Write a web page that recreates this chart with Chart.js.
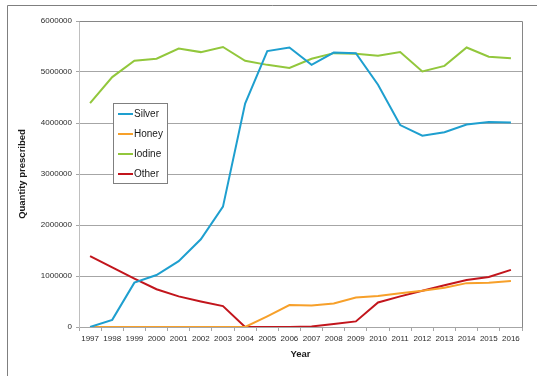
<!DOCTYPE html>
<html>
<head>
<meta charset="utf-8">
<script src="https://cdn.jsdelivr.net/npm/chart.js@4/dist/chart.umd.min.js"></script>
<style>
  html, body { margin: 0; padding: 0; background: #ffffff; }
  #wrap { width: 537px; height: 376px; position: relative; }
</style>
</head>
<body>
<div id="wrap"><canvas id="chart" width="537" height="376"></canvas></div>
<script>
// Prescriptions per year, by dressing type
const years = ['1997','1998','1999','2000','2001','2002','2003','2004','2005','2006',
               '2007','2008','2009','2010','2011','2012','2013','2014','2015','2016'];
const silver = [0, 140000, 870000, 1020000, 1290000, 1720000, 2360000, 4380000, 5410000, 5480000,
                5140000, 5380000, 5370000, 4750000, 3960000, 3750000, 3820000, 3970000, 4020000, 4010000];
const honey  = [0, 0, 0, 0, 0, 0, 0, 0, 210000, 430000,
                420000, 460000, 580000, 610000, 660000, 710000, 770000, 860000, 870000, 900000];
const iodine = [4390000, 4900000, 5220000, 5260000, 5460000, 5390000, 5490000, 5220000, 5140000, 5080000,
                5260000, 5370000, 5360000, 5320000, 5390000, 5010000, 5120000, 5480000, 5300000, 5270000];
const other  = [1390000, 1170000, 950000, 740000, 600000, 500000, 410000, 0, 0, 0,
                10000, 60000, 110000, 480000, 600000, 710000, 820000, 920000, 980000, 1120000];
const yTicks = [0, 1000000, 2000000, 3000000, 4000000, 5000000, 6000000];

const FONT = "'Liberation Sans', Arial, sans-serif";

// Outer frame, plot border and the boxed legend
const framePlugin = {
  id: 'frame',
  beforeDraw(chart) {
    const ctx = chart.ctx;
    ctx.save();
    ctx.fillStyle = '#ffffff';
    ctx.fillRect(0, 0, chart.width, chart.height);
    ctx.strokeStyle = '#7f7f7f';
    ctx.lineWidth = 1;
    ctx.beginPath();
    ctx.moveTo(7.5, chart.height);
    ctx.lineTo(7.5, 5.5);
    ctx.lineTo(chart.width, 5.5);
    ctx.stroke();
    ctx.restore();
  },
  afterDatasetsDraw(chart) {
    const ctx = chart.ctx;
    const a = chart.chartArea;
    ctx.save();
    ctx.strokeStyle = '#868686';
    ctx.lineWidth = 1;
    ctx.beginPath();
    ctx.moveTo(Math.round(a.left) + 0.5, Math.round(a.top) + 0.5);
    ctx.lineTo(Math.round(a.right) + 0.5, Math.round(a.top) + 0.5);
    ctx.lineTo(Math.round(a.right) + 0.5, Math.round(a.bottom) + 0.5);
    ctx.stroke();

    // legend box
    const bx = 113.5, by = 103.5, bw = 54, bh = 80;
    ctx.fillStyle = '#ffffff';
    ctx.fillRect(bx, by, bw, bh);
    ctx.strokeStyle = '#7f7f7f';
    ctx.strokeRect(bx, by, bw, bh);
    ctx.font = '10px ' + FONT;
    ctx.textBaseline = 'middle';
    ctx.textAlign = 'left';
    chart.data.datasets.forEach((ds, i) => {
      const y = 114 + i * 20;
      ctx.strokeStyle = ds.borderColor;
      ctx.lineWidth = 2;
      ctx.beginPath();
      ctx.moveTo(118, y);
      ctx.lineTo(133, y);
      ctx.stroke();
      ctx.fillStyle = '#1a1a1a';
      ctx.fillText(ds.label, 134, y + 0.5);
    });
    ctx.restore();
  }
};

new Chart(document.getElementById('chart'), {
  type: 'line',
  data: {
    labels: years,
    datasets: [
      { label: 'Silver', data: silver, borderColor: '#1e9fcf', backgroundColor: '#1e9fcf' },
      { label: 'Honey',  data: honey,  borderColor: '#f7a02a', backgroundColor: '#f7a02a' },
      { label: 'Iodine', data: iodine, borderColor: '#92c73c', backgroundColor: '#92c73c' },
      { label: 'Other',  data: other,  borderColor: '#c2151c', backgroundColor: '#c2151c' }
    ].map(d => Object.assign(d, { borderWidth: 2, pointRadius: 0, tension: 0, fill: false }))
  },
  options: {
    responsive: false,
    animation: false,
    layout: { padding: { left: 0, right: 15, top: 21, bottom: 0 } },
    plugins: {
      legend: { display: false },
      tooltip: { enabled: false }
    },
    scales: {
      x: {
        offset: true,
        grid: { offset: true, drawOnChartArea: false, drawTicks: true, tickLength: 4, color: '#a6a6a6' },
        border: { color: '#a6a6a6' },
        ticks: { color: '#2b2b2b', font: { family: FONT, size: 8 }, padding: 3, maxRotation: 0, autoSkip: false },
        title: { display: true, text: 'Year', color: '#1a1a1a', font: { family: FONT, size: 9.5, weight: 'bold' }, padding: { top: 0, bottom: 16 } },
        afterFit(scale) { scale.height = 49; }
      },
      y: {
        min: 0,
        max: 6000000,
        afterBuildTicks(scale) { scale.ticks = yTicks.map(v => ({ value: v })); },
        grid: { color: '#a6a6a6', tickLength: 3, drawTicks: true },
        border: { color: '#bfbfbf' },
        ticks: { color: '#2b2b2b', font: { family: FONT, size: 8 }, padding: 4, callback: v => String(v) },
        title: { display: true, text: 'Quantity prescribed', color: '#1a1a1a', font: { family: FONT, size: 9.5, weight: 'bold' }, padding: { top: 17, bottom: 0 } },
        afterFit(scale) { scale.width = 79; }
      }
    }
  },
  plugins: [framePlugin]
});
</script>
</body>
</html>
